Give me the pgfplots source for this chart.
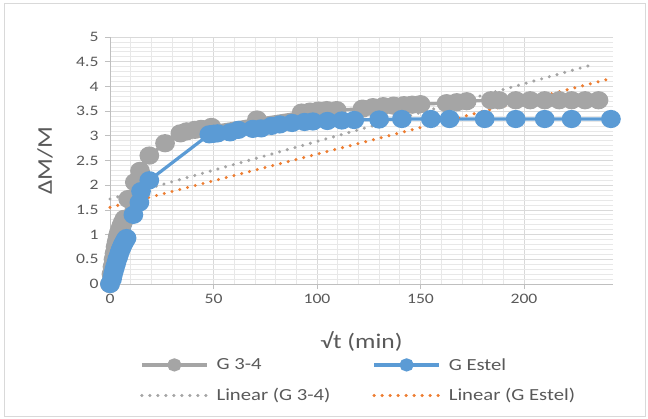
\documentclass[border=0pt]{standalone}
\usepackage{fontspec}
\setmainfont{Carlito}[FakeStretch=1.22]
\usepackage{pgfplots}
\pgfplotsset{compat=1.18}
\definecolor{cgray}{HTML}{A5A5A5}
\definecolor{cblue}{HTML}{5B9BD5}
\definecolor{corange}{HTML}{ED7D31}
\definecolor{textgray}{HTML}{595959}
\definecolor{gridmaj}{HTML}{D9D9D9}
\definecolor{gridmin}{HTML}{E8E8E8}
\definecolor{axisgray}{HTML}{BFBFBF}
\pgfplotsset{
  marklegend/.style={legend image code/.code={\draw[##1, mark repeat=2, mark phase=2, mark size=5bp] plot coordinates {(0bp,0bp) (32.5bp,0bp) (65bp,0bp)};}},
  linelegend/.style={legend image code/.code={\draw[##1] (0bp,0bp) -- (65bp,0bp);}},
}
\begin{document}
\begin{tikzpicture}
\path[use as bounding box] (-110bp,-135bp) rectangle (538bp,284bp);
\draw[gridmaj, line width=0.8bp] (-106bp,-132bp) rectangle (535bp,281bp);
\begin{axis}[
  at={(0,0)}, anchor=south west, scale only axis,
  width=503bp, height=247bp,
  xmin=0, xmax=243, ymin=0, ymax=5,
  xtick={0,50,100,150,200}, ytick={0,0.5,1,1.5,2,2.5,3,3.5,4,4.5,5},
  minor x tick num=4, minor y tick num=4,
  grid=both,
  major grid style={draw=gridmaj, line width=0.8bp},
  minor grid style={draw=gridmin, line width=0.7bp},
  axis lines*=left,
  axis line style={draw=axisgray, line width=0.8bp},
  tick style={draw=axisgray, line width=0.8bp},
  tick align=outside, major tick length=5bp, minor tick length=0bp,
  /pgf/number format/.cd, fixed, assume math mode=true,
  /pgfplots/.cd,
  tick label style={font=\fontsize{14.5}{17}\selectfont, text=textgray},
  xticklabel style={yshift=-2bp},
  yticklabel style={xshift=-3bp},
  xlabel={√t (min)},
  ylabel={ΔM/M},
  xlabel style={font=\fontsize{21}{24}\selectfont, text=textgray, at={(axis description cs:0.5,-0.231)}, anchor=center},
  ylabel style={font=\fontsize{21}{24}\selectfont, text=textgray, at={(axis description cs:-0.129,0.5)}, anchor=center},
  legend columns=2,
  legend cell align=left,
  legend style={draw=none, fill=none, font=\fontsize{17}{20}\selectfont, text=textgray,
    at={(axis description cs:0.0596,-0.3)}, anchor=north west,
    row sep=17bp, inner sep=0pt,
    nodes={inner sep=0pt},
    /tikz/every odd column/.append style={column sep=8bp},
    /tikz/every even column/.append style={column sep=42bp}},
  clip=false,
]
\addplot[cgray, line width=3.2bp, mark=*, mark size=7.5bp, mark options={fill=cgray, draw=cgray, xscale=1.1}, marklegend]
coordinates {
(0,0) (0.7,0.2) (1.2,0.35) (1.7,0.5) (2.2,0.62) (2.7,0.75) (3.2,0.85) (3.7,0.95)
(4.2,1.03) (4.8,1.1) (5.5,1.18) (6.2,1.25) (7,1.32) (8.8,1.72) (12,2.06) (14.5,2.29)
(19,2.6) (26.6,2.85) (34,3.05) (37,3.09) (41,3.12) (44,3.14) (49,3.18) (71,3.33)
(92.6,3.47) (96.6,3.49) (100.6,3.51) (104.7,3.52) (109.5,3.52) (122,3.55) (127,3.58)
(132,3.6) (137,3.61) (142,3.62) (146,3.63) (150,3.64) (162.6,3.66) (167.5,3.68)
(172.3,3.7) (184,3.72) (188,3.72) (196,3.72) (203,3.72) (210,3.72) (217,3.72)
(223,3.72) (229.5,3.72) (236,3.72)
};
\addlegendentry{G 3-4}
\addplot[cblue, line width=3.2bp, mark=*, mark size=7.5bp, mark options={fill=cblue, draw=cblue, xscale=1.1}, marklegend]
coordinates {
(0,0) (1,0.1) (1.5,0.2) (2,0.28) (2.5,0.35) (3,0.42) (3.5,0.5) (4,0.55) (4.5,0.62)
(5,0.68) (5.5,0.73) (6,0.78) (6.5,0.82) (7,0.86) (7.5,0.9) (8,0.93) (11.3,1.4)
(14.2,1.65) (15,1.88) (19,2.1) (48,3.03) (50,3.04) (52,3.05) (58,3.07) (62,3.12)
(69,3.14) (73,3.15) (78,3.2) (82,3.23) (88,3.26) (94,3.28) (98,3.29) (105,3.3)
(112,3.31) (118,3.32) (130,3.33) (141,3.34) (155,3.34) (164,3.34) (181,3.34)
(196,3.34) (210,3.34) (223,3.34) (242,3.34)
};
\addlegendentry{G Estel}
\addplot[cgray, line width=3.4bp, line cap=round, dash pattern=on 0bp off 8bp, linelegend]
coordinates {(0,1.72) (234,4.45)};
\addlegendentry{Linear (G 3-4)}
\addplot[corange, line width=3.4bp, line cap=round, dash pattern=on 0bp off 8bp, linelegend]
coordinates {(0,1.55) (243,4.17)};
\addlegendentry{Linear (G Estel)}
\end{axis}
\end{tikzpicture}
\end{document}
